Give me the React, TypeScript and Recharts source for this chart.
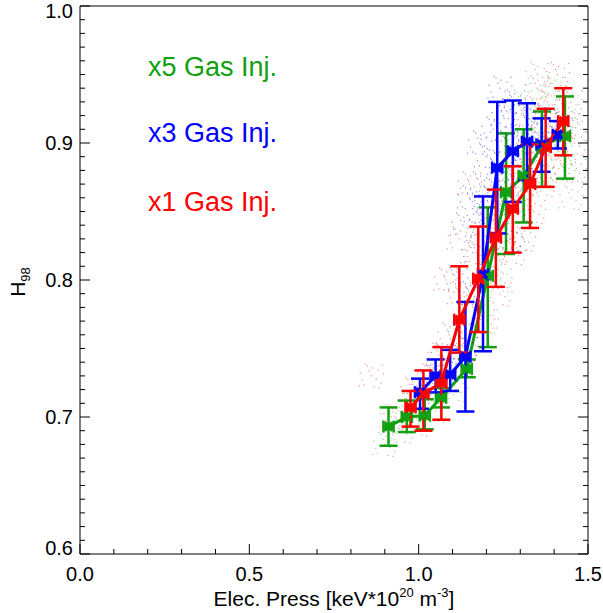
import React from 'react';
import { ComposedChart, Line, Scatter, XAxis, YAxis, ErrorBar } from 'recharts';

// x5 gas injection (green)
const greenX = [0.911, 0.965, 1.018, 1.066, 1.142, 1.204, 1.258, 1.31, 1.364, 1.432];
const greenY = [0.693, 0.7, 0.701, 0.714, 0.735, 0.803, 0.864, 0.876, 0.898, 0.905];
const greenLo = [0.679, 0.689, 0.691, 0.707, 0.729, 0.751, 0.819, 0.842, 0.868, 0.874];
const greenHi = [0.707, 0.712, 0.713, 0.721, 0.742, 0.853, 0.907, 0.91, 0.923, 0.934];

// x3 gas injection (blue)
const blueX = [1.004, 1.05, 1.093, 1.138, 1.19, 1.232, 1.278, 1.32, 1.363, 1.411];
const blueY = [0.718, 0.73, 0.731, 0.744, 0.804, 0.882, 0.894, 0.901, 0.899, 0.906];
const blueLo = [0.706, 0.718, 0.719, 0.704, 0.748, 0.834, 0.857, 0.873, 0.879, 0.896];
const blueHi = [0.728, 0.742, 0.749, 0.784, 0.861, 0.93, 0.931, 0.929, 0.918, 0.916];

// x1 gas injection (red)
const redX = [0.976, 1.014, 1.067, 1.12, 1.176, 1.228, 1.278, 1.329, 1.375, 1.427];
const redY = [0.707, 0.717, 0.725, 0.771, 0.801, 0.831, 0.852, 0.87, 0.897, 0.916];
const redLo = [0.693, 0.69, 0.698, 0.747, 0.762, 0.795, 0.82, 0.838, 0.868, 0.891];
const redHi = [0.719, 0.734, 0.751, 0.81, 0.839, 0.866, 0.883, 0.899, 0.925, 0.94];

const xErrHalf = 0.015;

// individual shots behind the binned curves
const greenCloud = [
  [0.9, 0.68], [0.92, 0.7], [0.95, 0.69], [0.97, 0.71], [1.0, 0.695], [1.02, 0.72], [1.05, 0.705],
  [1.08, 0.725], [1.11, 0.72], [1.13, 0.745], [1.16, 0.76], [1.18, 0.79], [1.2, 0.77], [1.22, 0.82],
  [1.24, 0.8], [1.25, 0.85], [1.27, 0.83], [1.28, 0.87], [1.3, 0.85], [1.31, 0.89], [1.33, 0.87],
  [1.34, 0.91], [1.36, 0.88], [1.37, 0.93], [1.39, 0.9], [1.4, 0.94], [1.42, 0.89], [1.44, 0.92],
  [1.46, 0.88], [1.48, 0.91], [1.35, 0.95], [1.3, 0.93], [1.26, 0.9], [1.45, 0.86],
];
const blueCloud = [
  [1.0, 0.715], [1.04, 0.73], [1.07, 0.745], [1.09, 0.735], [1.12, 0.76], [1.14, 0.75], [1.15, 0.79],
  [1.16, 0.82], [1.17, 0.85], [1.18, 0.87], [1.19, 0.84], [1.2, 0.89], [1.21, 0.86], [1.22, 0.91],
  [1.23, 0.88], [1.24, 0.85], [1.25, 0.92], [1.26, 0.9], [1.27, 0.87], [1.28, 0.93], [1.29, 0.905],
  [1.3, 0.88], [1.31, 0.92], [1.32, 0.895], [1.33, 0.91], [1.35, 0.9], [1.37, 0.92], [1.4, 0.905],
  [1.42, 0.915], [1.15, 0.86], [1.13, 0.84], [1.11, 0.8], [1.18, 0.9], [1.24, 0.94], [1.27, 0.83],
];
const redCloud = [
  [0.86, 0.73], [0.93, 0.7], [0.98, 0.72], [1.03, 0.73], [1.06, 0.745], [1.09, 0.76],
  [1.12, 0.79], [1.14, 0.75], [1.16, 0.78], [1.17, 0.82], [1.19, 0.77], [1.2, 0.84], [1.22, 0.81],
  [1.23, 0.86], [1.24, 0.79], [1.26, 0.84], [1.27, 0.88], [1.28, 0.82], [1.29, 0.9], [1.3, 0.86],
  [1.31, 0.83], [1.32, 0.92], [1.33, 0.88], [1.34, 0.85], [1.35, 0.94], [1.36, 0.9], [1.37, 0.87],
  [1.38, 0.93], [1.39, 0.89], [1.41, 0.95], [1.42, 0.91], [1.43, 0.88], [1.45, 0.93], [1.46, 0.9],
  [1.12, 0.83], [1.08, 0.8], [1.15, 0.87],
];

const xMajor = [0, 0.5, 1.0, 1.5];
const yMajor = [0.6, 0.7, 0.8, 0.9, 1.0];
const xTicks = Array.from({ length: 16 }, (_, i) => i / 10);
const yTicks = Array.from({ length: 41 }, (_, i) => (60 + i) / 100);

const GREEN = '#10a010';
const BLUE = '#0000ff';
const RED = '#ff0000';
const FONT = '"Liberation Sans", Arial, Helvetica, sans-serif';

// pixel pattern used to draw each shot as a faint speckle
const SPECKLE = [
  [0, 0], [-9, 4], [7, -6], [-4, -10], [10, 7], [-11, -3], [3, 11], [12, -2],
  [-7, 9], [5, 3], [-2, -5], [8, 12], [-12, 10], [11, -11], [-6, -12], [1, -8],
];

const isMajor = (v: number, list: number[]) => list.some((m) => Math.abs(m - v) < 1e-6);

const pts = (xs: number[], ys: number[], lo: number[], hi: number[]) =>
  xs.map((x, i) => ({ x, y: ys[i], ey: [ys[i] - lo[i], hi[i] - ys[i]], ex: xErrHalf }));

const cloud = (arr: number[][]) => arr.map(([x, y]) => ({ x, y }));

const greenPts = pts(greenX, greenY, greenLo, greenHi);
const bluePts = pts(blueX, blueY, blueLo, blueHi);
const redPts = pts(redX, redY, redLo, redHi);

function BottomTick({ x, y, payload }: any) {
  const major = isMajor(payload.value, xMajor);
  return (
    <g>
      <line x1={x} x2={x} y1={y} y2={y - (major ? 10 : 5)} stroke="#000" />
      {major && (
        <text x={x} y={y + 27} textAnchor="middle" fontSize={20} fontFamily={FONT} fill="#000">
          {payload.value.toFixed(1)}
        </text>
      )}
    </g>
  );
}

function TopTick({ x, y, payload }: any) {
  const major = isMajor(payload.value, xMajor);
  return <line x1={x} x2={x} y1={y} y2={y + (major ? 10 : 5)} stroke="#000" />;
}

function LeftTick({ x, y, payload }: any) {
  const major = isMajor(payload.value, yMajor);
  const ly = Math.min(Math.max(y, 11), 548);
  return (
    <g>
      <line x1={x} x2={x + (major ? 10 : 5)} y1={y} y2={y} stroke="#000" />
      {major && (
        <text x={x - 7} y={ly + 7} textAnchor="end" fontSize={20} fontFamily={FONT} fill="#000">
          {payload.value.toFixed(1)}
        </text>
      )}
    </g>
  );
}

function RightTick({ x, y, payload }: any) {
  const major = isMajor(payload.value, yMajor);
  return <line x1={x} x2={x - (major ? 10 : 5)} y1={y} y2={y} stroke="#000" />;
}

const marker = (color: string) => (props: any) => {
  const { cx, cy } = props;
  const s = 4;
  return (
    <g stroke={color} strokeWidth={3.5}>
      <line x1={cx - s} y1={cy - s} x2={cx + s} y2={cy + s} />
      <line x1={cx - s} y1={cy + s} x2={cx + s} y2={cy - s} />
    </g>
  );
};

const speck = (color: string) => (props: any) => (
  <g fill={color} fillOpacity={0.45}>
    {SPECKLE.map(([dx, dy], i) => (
      <rect key={i} x={props.cx + dx - 0.6} y={props.cy + dy - 0.6} width={1.2} height={1.2} />
    ))}
  </g>
);

export default function App() {
  const series = [
    { data: greenPts, color: GREEN, name: 'g' },
    { data: bluePts, color: BLUE, name: 'b' },
    { data: redPts, color: RED, name: 'r' },
  ];
  return (
    <div style={{ position: 'absolute', left: 0, top: 0, width: 603, height: 613, background: '#fff' }}>
      <ComposedChart width={603} height={613} margin={{ top: 5, right: 14, bottom: 1, left: 0 }}>
        <XAxis
          dataKey="x"
          type="number"
          domain={[0, 1.5]}
          ticks={xTicks}
          interval={0}
          height={58}
          tickSize={0}
          tickMargin={0}
          tickLine={false}
          axisLine={{ stroke: '#000' }}
          tick={<BottomTick />}
          allowDataOverflow
        />
        <XAxis
          xAxisId="top"
          orientation="top"
          type="number"
          domain={[0, 1.5]}
          ticks={xTicks}
          interval={0}
          height={1}
          tickSize={0}
          tickMargin={0}
          tickLine={false}
          axisLine={{ stroke: '#000' }}
          tick={<TopTick />}
          allowDataOverflow
        />
        <YAxis
          dataKey="y"
          type="number"
          domain={[0.6, 1.0]}
          ticks={yTicks}
          interval={0}
          width={80}
          tickSize={0}
          tickMargin={0}
          tickLine={false}
          axisLine={{ stroke: '#000' }}
          tick={<LeftTick />}
          allowDataOverflow
        />
        <YAxis
          yAxisId="right"
          orientation="right"
          type="number"
          domain={[0.6, 1.0]}
          ticks={yTicks}
          interval={0}
          width={1}
          tickSize={0}
          tickMargin={0}
          tickLine={false}
          axisLine={{ stroke: '#000' }}
          tick={<RightTick />}
          allowDataOverflow
        />
        <Scatter data={cloud(greenCloud)} shape={speck(GREEN)} isAnimationActive={false} />
        <Scatter data={cloud(blueCloud)} shape={speck(BLUE)} isAnimationActive={false} />
        <Scatter data={cloud(redCloud)} shape={speck(RED)} isAnimationActive={false} />
        {series.map((s) => [
          <Line
            key={s.name + 'l'}
            data={s.data}
            dataKey="y"
            type="linear"
            stroke={s.color}
            strokeWidth={3}
            dot={false}
            isAnimationActive={false}
          />,
          <Scatter key={s.name + 's'} data={s.data} shape={marker(s.color)} isAnimationActive={false}>
            <ErrorBar dataKey="ey" direction="y" width={9} stroke={s.color} strokeWidth={2.5} />
            <ErrorBar dataKey="ex" direction="x" width={6} stroke={s.color} strokeWidth={2.5} />
          </Scatter>,
        ])}
      </ComposedChart>
      <svg
        width={603}
        height={613}
        style={{ position: 'absolute', left: 0, top: 0, pointerEvents: 'none' }}
        fontFamily={FONT}
      >
        <text x={148} y={76} fontSize={27} fill={GREEN}>x5 Gas Inj.</text>
        <text x={148} y={142} fontSize={27} fill={BLUE}>x3 Gas Inj.</text>
        <text x={148} y={211} fontSize={27} fill={RED}>x1 Gas Inj.</text>
        <text x={334} y={606} fontSize={21} textAnchor="middle" fill="#000">
          Elec. Press [keV*10
          <tspan fontSize={13} dy={-9}>20</tspan>
          <tspan dy={9}> m</tspan>
          <tspan fontSize={13} dy={-9}>-3</tspan>
          <tspan dy={9}>]</tspan>
        </text>
        <text transform="translate(25,282) rotate(-90)" fontSize={21} textAnchor="middle" fill="#000">
          H<tspan fontSize={13} dy={5}>98</tspan>
        </text>
      </svg>
    </div>
  );
}
